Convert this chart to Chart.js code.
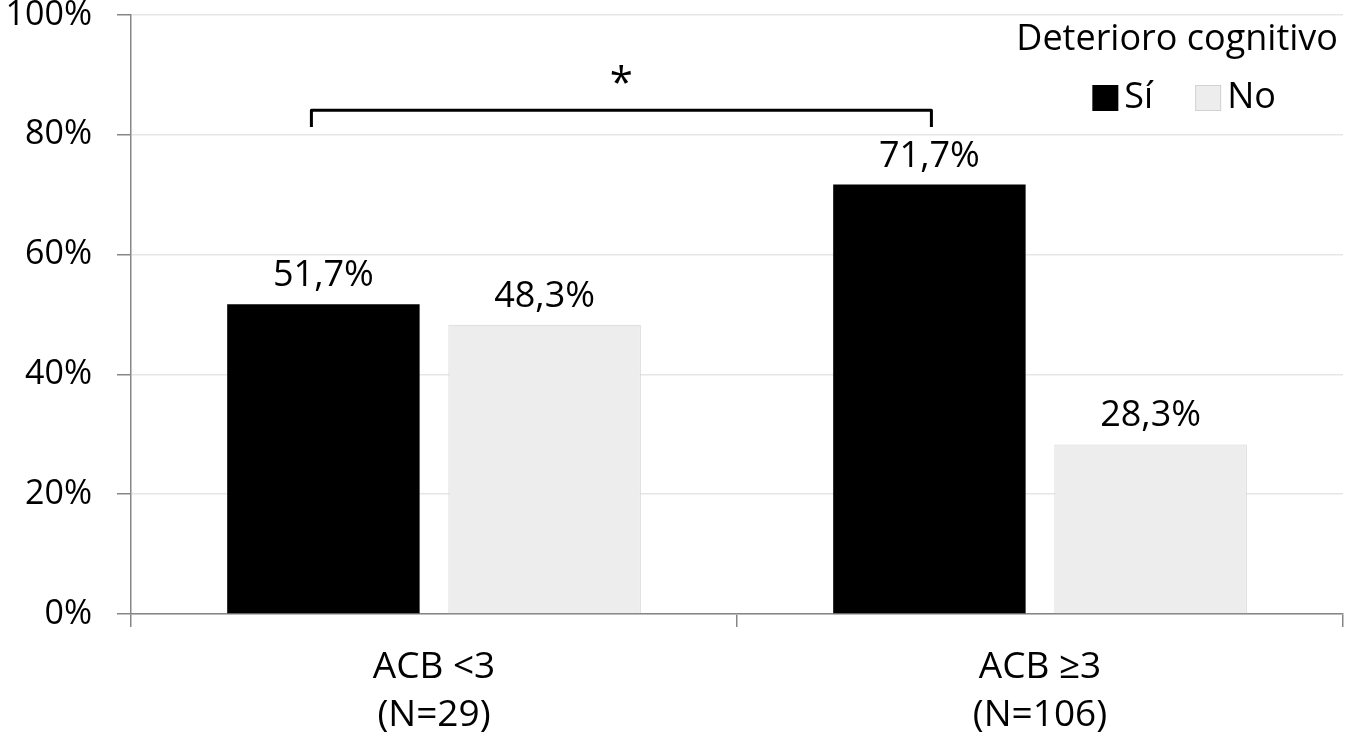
<!DOCTYPE html>
<html>
<head>
<meta charset="utf-8">
<script src="https://cdn.jsdelivr.net/npm/chart.js@4.4.1/dist/chart.umd.min.js"></script>
<style>
  html, body { margin: 0; padding: 0; background: #fff; }
  #wrap { width: 1346px; height: 740px; }
</style>
</head>
<body>
<div id="wrap"><canvas id="chart"></canvas></div>
<script>
// --- DATA ---
const categories = [['ACB <3', '(N=29)'], ['ACB ≥3', '(N=106)']];
const seriesNames = ['Sí', 'No'];
const siValues = [51.7, 71.7];
const noValues = [48.3, 28.3];
const yTicks = [0, 20, 40, 60, 80, 100];
const legendTitle = 'Deterioro cognitivo';
const bracketPair = [0, 1];     // groups compared (Sí bars)
const bracketTop = 84.1;        // % level of the bracket
const bracketFoot = 81.3;       // % level where the bracket ends drop to
const bracketStarAt = 89.5;     // % level of the asterisk
const bracketMark = '*';

const FONT = "'Open Sans', sans-serif";
const AXIS_GREY = '#868686';

function fmt(v) {
    return v.toFixed(1).replace('.', ',') + '%';
}

// value labels, legend and significance bracket
const extras = {
    id: 'extras',
    afterDatasetsDraw(chart) {
        const c = chart.ctx;
        const y = chart.scales.y;
        const area = chart.chartArea;

        // value labels above bars
        c.save();
        c.fillStyle = '#000';
        c.font = `36px ${FONT}`;
        c.textAlign = 'center';
        c.textBaseline = 'alphabetic';
        chart.data.datasets.forEach((ds, i) => {
            chart.getDatasetMeta(i).data.forEach((bar, j) => {
                c.fillText(fmt(ds.data[j]), bar.x, bar.y - 18);
            });
        });
        c.restore();

        // bracket
        const si = chart.getDatasetMeta(0).data;
        const x1 = si[bracketPair[0]].x - 12;
        const x2 = si[bracketPair[1]].x + 2;
        const yt = y.getPixelForValue(bracketTop);
        const yb = y.getPixelForValue(bracketFoot);
        c.save();
        c.strokeStyle = '#000';
        c.lineWidth = 3;
        c.lineJoin = 'round';
        c.beginPath();
        c.moveTo(x1, yb);
        c.lineTo(x1, yt);
        c.lineTo(x2, yt);
        c.lineTo(x2, yb);
        c.stroke();
        c.fillStyle = '#000';
        c.font = `42px ${FONT}`;
        c.textAlign = 'center';
        c.textBaseline = 'middle';
        c.fillText(bracketMark, (x1 + x2) / 2, y.getPixelForValue(bracketStarAt) + 7);
        c.restore();

        // legend (inside plot, top right)
        c.save();
        c.fillStyle = '#000';
        c.font = `36px ${FONT}`;
        c.textAlign = 'right';
        c.textBaseline = 'middle';
        const titleRight = area.right - 5;
        c.fillText(legendTitle, titleRight, 40);
        const titleW = c.measureText(legendTitle).width;
        const mid = titleRight - titleW / 2 + 10;

        c.font = `36px ${FONT}`;
        const box = 26, gapText = 6, gapItem = 42;
        const ds = chart.data.datasets;
        const widths = ds.map(d => box + gapText + c.measureText(d.label).width);
        const total = widths.reduce((a, b) => a + b, 0) + gapItem * (ds.length - 1);
        let x = mid - total / 2 - 3;
        c.textAlign = 'left';
        ds.forEach((d, i) => {
            c.fillStyle = d.backgroundColor;
            c.fillRect(x, 98 - box / 2, box, box);
            if (d.borderWidth) {
                c.strokeStyle = d.borderColor;
                c.lineWidth = 1;
                c.strokeRect(x + 0.5, 98 - box / 2 + 0.5, box - 1, box - 1);
            }
            c.fillStyle = '#000';
            c.fillText(d.label, x + box + gapText, 98);
            x += widths[i] + gapItem;
        });
        c.restore();
    }
};

new Chart(document.getElementById('chart'), {
    type: 'bar',
    data: {
        labels: categories,
        datasets: [
            {
                label: seriesNames[0],
                data: siValues,
                backgroundColor: '#000000',
                borderWidth: 0
            },
            {
                label: seriesNames[1],
                data: noValues,
                backgroundColor: '#EDEDED',
                borderColor: '#D2D2D2',
                borderWidth: 1
            }
        ]
    },
    options: {
        responsive: true,
        maintainAspectRatio: false,
        animation: false,
        categoryPercentage: 0.73,
        barPercentage: 0.87,
        layout: { padding: { top: 15, right: 3, left: 0, bottom: 0 } },
        plugins: {
            legend: { display: false },
            tooltip: { enabled: false }
        },
        scales: {
            x: {
                grid: {
                    drawOnChartArea: false,
                    drawTicks: true,
                    tickLength: 13,
                    tickColor: AXIS_GREY,
                    lineWidth: 1.5
                },
                border: { color: AXIS_GREY, width: 1.5 },
                ticks: {
                    color: '#000',
                    padding: 17,
                    maxRotation: 0,
                    font: { family: FONT, size: 37, lineHeight: 1.28 }
                },
                afterFit(s) {
                    s.height = 126;
                    s.paddingLeft = 0;
                    s.paddingRight = 0;
                }
            },
            y: {
                min: 0,
                max: 100,
                afterBuildTicks(s) { s.ticks = yTicks.map(v => ({ value: v })); },
                grid: {
                    color: '#E6E6E6',
                    lineWidth: 1.5,
                    tickLength: 14,
                    tickColor: AXIS_GREY
                },
                border: { color: AXIS_GREY, width: 1.5 },
                ticks: {
                    color: '#000',
                    padding: 25,
                    callback: v => v + '%',
                    font: { family: FONT, size: 34 }
                },
                afterFit(s) {
                    s.width = 131;
                    s.paddingTop = 0;
                    s.paddingBottom = 0;
                }
            }
        }
    },
    plugins: [extras]
});
</script>
</body>
</html>
